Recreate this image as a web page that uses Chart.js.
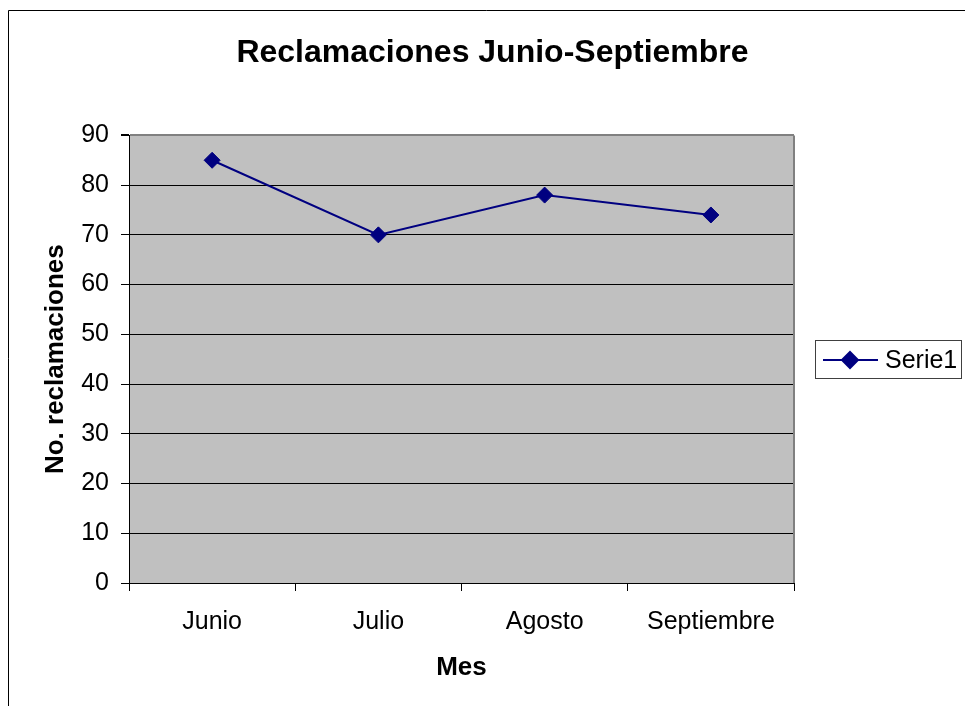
<!DOCTYPE html>
<html>
<head>
<meta charset="utf-8">
<title>Reclamaciones Junio-Septiembre</title>
<script src="https://cdn.jsdelivr.net/npm/chart.js@4.4.0/dist/chart.umd.min.js"></script>
<style>
    body { margin: 0; background: #ffffff; }
    #wrap { width: 965px; height: 706px; }
</style>
</head>
<body>
<div id="wrap">
    <canvas id="reclamacionesChart" width="965" height="706"></canvas>
</div>
<script>
// Data
const meses = ['Junio', 'Julio', 'Agosto', 'Septiembre'];
const reclamaciones = [85, 70, 78, 74];
const serieNombre = 'Serie1';
const yTicks = [0, 10, 20, 30, 40, 50, 60, 70, 80, 90];

const FONT = "'Liberation Sans', Arial, sans-serif";
const NAVY = '#000080';

// White page, outer frame and the grey plot area
const backgroundPlugin = {
    id: 'excelBackground',
    beforeDraw(chart) {
        const ctx = chart.ctx;
        const area = chart.chartArea;
        ctx.save();
        ctx.fillStyle = '#ffffff';
        ctx.fillRect(0, 0, chart.width, chart.height);
        ctx.strokeStyle = '#000000';
        ctx.lineWidth = 1;
        ctx.beginPath();
        ctx.moveTo(8.5, chart.height);
        ctx.lineTo(8.5, 10.5);
        ctx.lineTo(chart.width, 10.5);
        ctx.stroke();
        ctx.fillStyle = '#c0c0c0';
        ctx.fillRect(area.left, area.top, area.right - area.left, area.bottom - area.top);
        ctx.restore();
    },
    beforeDatasetsDraw(chart) {
        const ctx = chart.ctx;
        const area = chart.chartArea;
        ctx.save();
        ctx.strokeStyle = '#808080';
        ctx.lineWidth = 2;
        ctx.beginPath();
        ctx.moveTo(area.right, area.top);
        ctx.lineTo(area.right, area.bottom);
        ctx.stroke();
        ctx.restore();
    }
};

// Legend box on the right, like the Excel one
const legendPlugin = {
    id: 'excelLegend',
    afterDraw(chart) {
        const ctx = chart.ctx;
        const ds = chart.data.datasets[0];
        ctx.save();
        ctx.strokeStyle = '#404040';
        ctx.lineWidth = 1;
        ctx.strokeRect(815.5, 340.5, 146, 38);
        ctx.strokeStyle = ds.borderColor;
        ctx.lineWidth = 2;
        ctx.beginPath();
        ctx.moveTo(823, 360);
        ctx.lineTo(878, 360);
        ctx.stroke();
        Chart.helpers.drawPoint(ctx, {
            pointStyle: 'rectRot',
            radius: 8,
            borderWidth: 1
        }, 850, 360);
        ctx.fillStyle = ds.pointBackgroundColor;
        ctx.fill();
        ctx.fillStyle = '#000000';
        ctx.font = '25px ' + FONT;
        ctx.textBaseline = 'middle';
        ctx.textAlign = 'left';
        ctx.fillText(ds.label, 885, 361);
        ctx.restore();
    }
};

const ctx = document.getElementById('reclamacionesChart').getContext('2d');
new Chart(ctx, {
    type: 'line',
    data: {
        labels: meses,
        datasets: [{
            label: serieNombre,
            data: reclamaciones,
            borderColor: NAVY,
            backgroundColor: NAVY,
            borderWidth: 2,
            tension: 0,
            pointStyle: 'rectRot',
            pointRadius: 8,
            pointBackgroundColor: NAVY,
            pointBorderColor: NAVY,
            pointBorderWidth: 1,
            fill: false
        }]
    },
    options: {
        responsive: false,
        animation: false,
        devicePixelRatio: 1,
        layout: {
            padding: { left: 20, right: 0, top: 0, bottom: 0 }
        },
        plugins: {
            legend: { display: false },
            tooltip: { enabled: false },
            title: {
                display: true,
                text: 'Reclamaciones Junio-Septiembre',
                color: '#000000',
                font: { family: FONT, size: 32, weight: 'bold' },
                padding: { top: 34, bottom: 63 }
            }
        },
        scales: {
            x: {
                type: 'category',
                offset: true,
                afterFit: function (scale) { scale.height = 123; },
                grid: {
                    display: true,
                    drawOnChartArea: false,
                    drawTicks: true,
                    tickLength: 8,
                    offset: true,
                    color: '#000000',
                    tickColor: '#000000'
                },
                border: { display: true, color: '#000000', width: 1 },
                ticks: {
                    color: '#000000',
                    padding: 16,
                    maxRotation: 0,
                    font: { family: FONT, size: 25 }
                },
                title: {
                    display: true,
                    text: 'Mes',
                    color: '#000000',
                    font: { family: FONT, size: 26, weight: 'bold' },
                    padding: { top: 0, bottom: 23 }
                }
            },
            y: {
                min: yTicks[0],
                max: yTicks[yTicks.length - 1],
                afterFit: function (scale) { scale.width = 109; },
                afterBuildTicks: function (scale) {
                    scale.ticks = yTicks.map(v => ({ value: v }));
                },
                grid: {
                    drawTicks: true,
                    tickLength: 8,
                    color: function (c) {
                        return c.tick && c.tick.value === 90 ? '#808080' : '#000000';
                    },
                    lineWidth: function (c) {
                        return c.tick && c.tick.value === 90 ? 2 : 1;
                    },
                    tickColor: '#000000'
                },
                border: { display: true, color: '#000000', width: 1 },
                ticks: {
                    color: '#000000',
                    padding: 12,
                    font: { family: FONT, size: 25 }
                },
                title: {
                    display: true,
                    text: 'No. reclamaciones',
                    color: '#000000',
                    font: { family: FONT, size: 26, weight: 'bold' },
                    padding: { top: 20, bottom: 0 }
                }
            },
            // empty right-hand axis that reserves room for the legend
            legendSpace: {
                type: 'linear',
                position: 'right',
                display: true,
                afterFit: function (scale) { scale.width = 171; },
                grid: { display: false, drawTicks: false },
                border: { display: false },
                ticks: { display: false }
            }
        }
    },
    plugins: [backgroundPlugin, legendPlugin]
});
</script>
</body>
</html>
